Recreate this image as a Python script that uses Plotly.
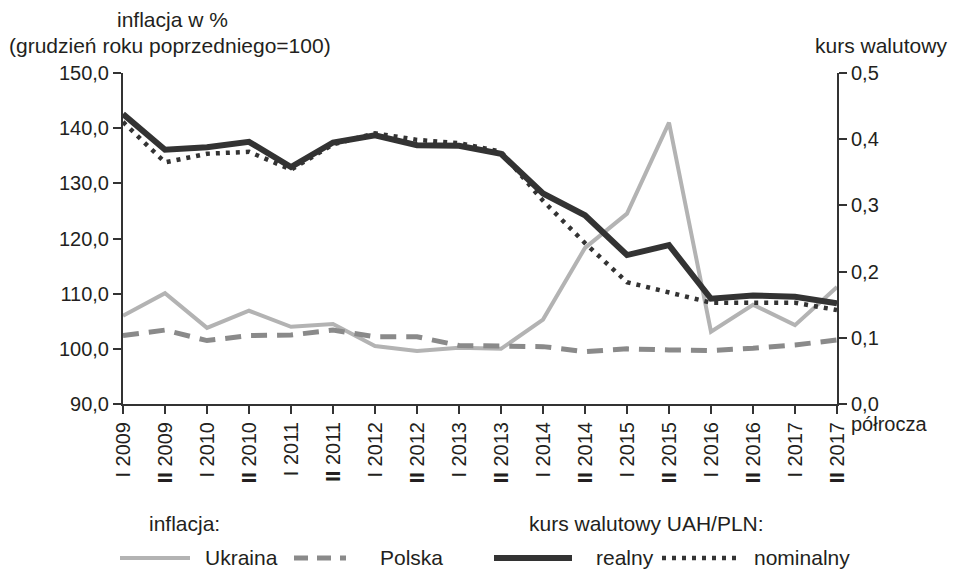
import plotly.graph_objects as go

periods = ["I 2009", "II 2009", "I 2010", "II 2010", "I 2011", "II 2011", "I 2012", "II 2012",
           "I 2013", "II 2013", "I 2014", "II 2014", "I 2015", "II 2015", "I 2016", "II 2016",
           "I 2017", "II 2017"]
tick_text = [p.replace("II ", "<b>II</b> ") for p in periods]

inflation_ukraine = [106.0, 110.1, 103.8, 106.9, 104.0, 104.5, 100.5, 99.6, 100.2, 100.0,
                     105.3, 118.3, 124.5, 141.0, 103.1, 108.0, 104.3, 111.2]
inflation_poland = [102.4, 103.4, 101.5, 102.4, 102.5, 103.4, 102.2, 102.2, 100.6, 100.6,
                    100.4, 99.5, 100.0, 99.8, 99.7, 100.1, 100.7, 101.6]
fx_real = [0.438, 0.384, 0.388, 0.396, 0.358, 0.395, 0.406, 0.391, 0.390, 0.378,
           0.318, 0.285, 0.225, 0.240, 0.159, 0.164, 0.162, 0.152]
fx_nominal = [0.426, 0.365, 0.378, 0.381, 0.354, 0.392, 0.409, 0.399, 0.394, 0.381,
              0.307, 0.243, 0.184, 0.169, 0.153, 0.153, 0.153, 0.142]

FONT = "Liberation Sans, Arial, sans-serif"
TXT = "#231f20"
AX = "#333333"
W, H = 956, 569
OFF = 8  # page body margin
# plot-area edges in screen pixels
L, R, T, B = 123, 837, 73, 404

fig = go.Figure()
fig.add_trace(go.Scatter(x=periods, y=inflation_ukraine, mode="lines", name="Ukraina",
                         line=dict(color="#b3b3b3", width=4)))
fig.add_trace(go.Scatter(x=periods, y=inflation_poland, mode="lines", name="Polska",
                         line=dict(color="#8a8a8a", width=5, dash="16px,10px")))
fig.add_trace(go.Scatter(x=periods, y=fx_real, mode="lines", name="realny", yaxis="y2",
                         line=dict(color="#333333", width=6)))
fig.add_trace(go.Scatter(x=periods, y=fx_nominal, mode="lines", name="nominalny", yaxis="y2",
                         line=dict(color="#333333", width=4.5, dash="4px,6px")))

axis_common = dict(showgrid=False, zeroline=False, showline=True, linecolor=AX, linewidth=2,
                   ticks="outside", ticklen=8, tickwidth=2, tickcolor=AX, automargin=False,
                   tickfont=dict(family=FONT, size=20, color=TXT))

fig.update_layout(
    width=W, height=H,
    margin=dict(l=L - OFF, r=W - R + OFF, t=T - OFF, b=H - B + OFF),
    paper_bgcolor="white", plot_bgcolor="white",
    showlegend=False,
    separators=", ",
    font=dict(family=FONT, size=20, color=TXT),
    xaxis=dict(**axis_common, type="category", range=[0, len(periods) - 1],
               tickvals=periods, ticktext=tick_text, tickangle=-90),
    yaxis=dict(**axis_common, range=[90, 150], dtick=10, tickformat=".1f"),
    yaxis2=dict(**axis_common, range=[0, 0.5], dtick=0.1, tickformat=".1f",
                overlaying="y", side="right"),
)


def px(x):
    return (x - L) / (R - L)


def py(y):
    return (B - y) / (B - T)


ann = [
    dict(text="inflacja w %", x=172, y=19, s=21),
    dict(text="(grudzień roku poprzedniego=100)", x=170, y=45, s=21),
    dict(text="kurs walutowy", x=881, y=45, s=21),
    dict(text="półrocza", x=889, y=424, s=20),
    dict(text="inflacja:", x=184, y=523, s=21),
    dict(text="kurs walutowy UAH/PLN:", x=646, y=523, s=21),
    dict(text="Ukraina", x=241, y=557, s=21),
    dict(text="Polska", x=411, y=557, s=21),
    dict(text="realny", x=625, y=557, s=21),
    dict(text="nominalny", x=802, y=557, s=21),
]
for a in ann:
    fig.add_annotation(text=a["text"], xref="paper", yref="paper",
                       x=px(a["x"]), y=py(a["y"]),
                       xanchor="center", yanchor="middle", showarrow=False,
                       font=dict(family=FONT, size=a["s"], color=TXT))

legend_lines = [
    (120, 190, dict(color="#b3b3b3", width=4)),
    (294, 346, dict(color="#8a8a8a", width=5, dash="14px,9px")),
    (494, 572, dict(color="#333333", width=6)),
    (662, 742, dict(color="#333333", width=4.5, dash="4px,6px")),
]
for x0, x1, ln in legend_lines:
    fig.add_shape(type="line", xref="paper", yref="paper",
                  x0=px(x0), x1=px(x1), y0=py(558), y1=py(558), line=ln)

fig.write_html("out.html")
